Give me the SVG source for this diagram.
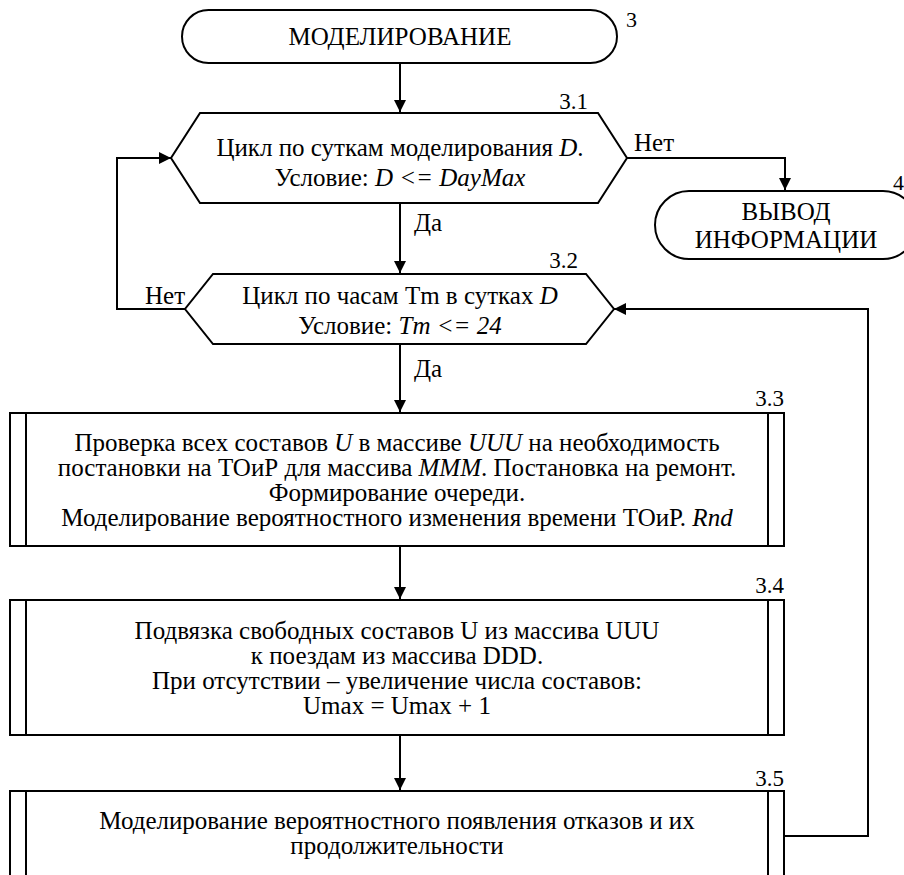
<svg xmlns="http://www.w3.org/2000/svg" width="904" height="875" viewBox="0 0 904 875">
<defs>
<marker id="ah" markerWidth="12" markerHeight="14" refX="12" refY="7" orient="auto" markerUnits="userSpaceOnUse">
<path d="M0,1 L12,7 L0,13 Z" fill="#000"/>
</marker>
</defs>
<rect width="904" height="875" fill="#fff"/>
<g id="connectors" fill="none" stroke="#000" stroke-width="2">
<path d="M400,63 L400,112" marker-end="url(#ah)"/>
<path d="M627,158 L785,158 L785,190" marker-end="url(#ah)"/>
<path d="M400,203 L400,273" marker-end="url(#ah)"/>
<path d="M185,309 L117,309 L117,158 L171,158" marker-end="url(#ah)"/>
<path d="M400,344 L400,412" marker-end="url(#ah)"/>
<path d="M400,546 L400,599" marker-end="url(#ah)"/>
<path d="M400,735 L400,790" marker-end="url(#ah)"/>
<path d="M784,836 L868,836 L868,309 L614,309" marker-end="url(#ah)"/>
</g>
<g id="connector-labels">
<text font-family="Liberation Serif, serif" font-size="25" x="634" y="151">Нет</text>
<text font-family="Liberation Serif, serif" font-size="25" x="145" y="304">Нет</text>
<text font-family="Liberation Serif, serif" font-size="25" x="414" y="231">Да</text>
<text font-family="Liberation Serif, serif" font-size="25" x="414" y="377">Да</text>
</g>
<g id="n3">
<rect fill="#fff" stroke="#000" stroke-width="2" x="182" y="10" width="435" height="53" rx="26.5"/>
<text font-family="Liberation Serif, serif" font-size="25" text-anchor="middle" x="400" y="45">МОДЕЛИРОВАНИЕ</text>
<text font-family="Liberation Serif, serif" font-size="22" x="626" y="27">3</text>
</g>
<g id="n4">
<rect fill="#fff" stroke="#000" stroke-width="2" x="655" y="191" width="262" height="68" rx="34"/>
<text font-family="Liberation Serif, serif" font-size="25" text-anchor="middle" x="786" y="220">ВЫВОД</text>
<text font-family="Liberation Serif, serif" font-size="25" text-anchor="middle" x="786" y="248">ИНФОРМАЦИИ</text>
<text font-family="Liberation Serif, serif" font-size="22" x="893" y="190">4</text>
</g>
<g id="n3_1">
<polygon fill="#fff" stroke="#000" stroke-width="2" points="200,113 598,113 627,158 598,203 200,203 171,158"/>
<text font-family="Liberation Serif, serif" font-size="25" text-anchor="middle" x="400" y="156">Цикл по суткам моделирования <tspan font-style="italic">D</tspan>.</text>
<text font-family="Liberation Serif, serif" font-size="25" text-anchor="middle" x="400" y="186">Условие: <tspan font-style="italic">D &lt;= DayMax</tspan></text>
<text font-family="Liberation Serif, serif" font-size="23" text-anchor="end" x="588" y="109">3.1</text>
</g>
<g id="n3_2">
<polygon fill="#fff" stroke="#000" stroke-width="2" points="213,274 586,274 614,309 586,344 213,344 185,309"/>
<text font-family="Liberation Serif, serif" font-size="25" text-anchor="middle" x="400" y="304">Цикл по часам Tm в сутках <tspan font-style="italic">D</tspan></text>
<text font-family="Liberation Serif, serif" font-size="25" text-anchor="middle" x="400" y="334">Условие: <tspan font-style="italic">Tm &lt;= 24</tspan></text>
<text font-family="Liberation Serif, serif" font-size="23" text-anchor="end" x="578" y="268">3.2</text>
</g>
<g id="n3_3">
<rect fill="#fff" stroke="#000" stroke-width="2" x="10" y="413" width="774" height="133"/>
<path fill="none" stroke="#000" stroke-width="2" d="M26,413 V546 M768,413 V546"/>
<text font-family="Liberation Serif, serif" font-size="25" text-anchor="middle" x="397" y="451">Проверка всех составов <tspan font-style="italic">U</tspan> в массиве <tspan font-style="italic">UUU</tspan> на необходимость</text>
<text font-family="Liberation Serif, serif" font-size="25" text-anchor="middle" x="397" y="476">постановки на ТОиР для массива <tspan font-style="italic">MMM</tspan>. Постановка на ремонт.</text>
<text font-family="Liberation Serif, serif" font-size="25" text-anchor="middle" x="397" y="501">Формирование очереди.</text>
<text font-family="Liberation Serif, serif" font-size="25" text-anchor="middle" x="397" y="526">Моделирование вероятностного изменения времени ТОиР. <tspan font-style="italic">Rnd</tspan></text>
<text font-family="Liberation Serif, serif" font-size="23" text-anchor="end" x="784" y="406">3.3</text>
</g>
<g id="n3_4">
<rect fill="#fff" stroke="#000" stroke-width="2" x="10" y="600" width="774" height="135"/>
<path fill="none" stroke="#000" stroke-width="2" d="M26,600 V735 M768,600 V735"/>
<text font-family="Liberation Serif, serif" font-size="25" text-anchor="middle" x="397" y="639">Подвязка свободных составов U из массива UUU</text>
<text font-family="Liberation Serif, serif" font-size="25" text-anchor="middle" x="397" y="664">к поездам из массива DDD.</text>
<text font-family="Liberation Serif, serif" font-size="25" text-anchor="middle" x="397" y="689">При отсутствии – увеличение числа составов:</text>
<text font-family="Liberation Serif, serif" font-size="25" text-anchor="middle" x="397" y="714">Umax = Umax + 1</text>
<text font-family="Liberation Serif, serif" font-size="23" text-anchor="end" x="784" y="593">3.4</text>
</g>
<g id="n3_5">
<rect fill="#fff" stroke="#000" stroke-width="2" x="10" y="791" width="774" height="100"/>
<path fill="none" stroke="#000" stroke-width="2" d="M26,791 V891 M768,791 V891"/>
<text font-family="Liberation Serif, serif" font-size="25" text-anchor="middle" x="397" y="829">Моделирование вероятностного появления отказов и их</text>
<text font-family="Liberation Serif, serif" font-size="25" text-anchor="middle" x="397" y="854">продолжительности</text>
<text font-family="Liberation Serif, serif" font-size="23" text-anchor="end" x="784" y="786">3.5</text>
</g>
</svg>
